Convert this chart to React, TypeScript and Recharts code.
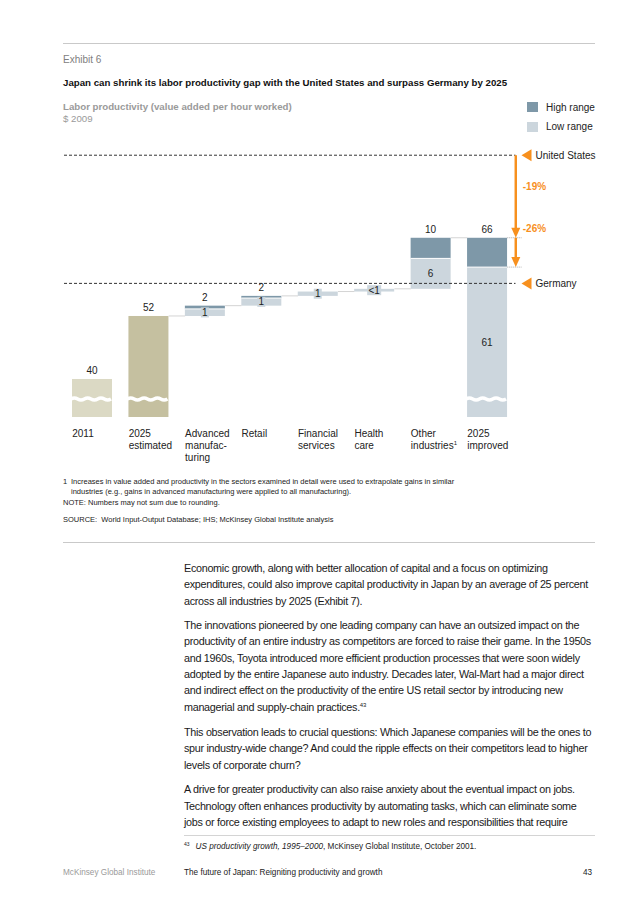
import React from "react";
import { ComposedChart, Bar, XAxis, YAxis, ReferenceLine, LabelList } from "recharts";

// waterfall: invisible base + low range + extra for high range
const categoryNames = [
  "2011",
  "2025 estimated",
  "Advanced manufacturing",
  "Retail",
  "Financial services",
  "Health care",
  "Other industries",
  "2025 improved",
];
const tickLines = [
  ["2011"],
  ["2025", "estimated"],
  ["Advanced", "manufac-", "turing"],
  ["Retail"],
  ["Financial", "services"],
  ["Health", "care"],
  ["Other", "industries"],
  ["2025", "improved"],
];
const tickSuperscripts = ["", "", "", "", "", "", "1", ""];
const barKinds = ["start", "estimate", "step", "step", "step", "step", "step", "total"];
const baseValues = [0, 0, 51.6, 53.5, 55.3, 56.1, 56.6, 0];
const lowValues = [40, 51.6, 1.3, 1.4, 0.8, 0.5, 5.6, 60.6];
const highValues = [0, 0, 0.6, 0.4, 0, 0, 3.8, 5.4];
const topLabels = ["40", "52", "2", "2", "", "", "10", "66"];
const lowLabels = ["", "", "1", "1", "1", "<1", "6", "61"];

const benchmarkNames = ["United States", "Germany"];
const benchmarkValues = [81.2, 57.6];
const gapLabels = ["-19%", "-26%"];

const legendItems = ["High range", "Low range"];

const footnoteLines = [
  "Increases in value added and productivity in the sectors examined in detail were used to extrapolate gains in similar",
  "industries (e.g., gains in advanced manufacturing were applied to all manufacturing).",
];
const noteText = "NOTE: Numbers may not sum due to rounding.";
const sourceText = "SOURCE:  World Input-Output Database; IHS; McKinsey Global Institute analysis";

const paragraphs = [
  [
    "Economic growth, along with better allocation of capital and a focus on optimizing",
    "expenditures, could also improve capital productivity in Japan by an average of 25 percent",
    "across all industries by 2025 (Exhibit 7).",
  ],
  [
    "The innovations pioneered by one leading company can have an outsized impact on the",
    "productivity of an entire industry as competitors are forced to raise their game. In the 1950s",
    "and 1960s, Toyota introduced more efficient production processes that were soon widely",
    "adopted by the entire Japanese auto industry. Decades later, Wal-Mart had a major direct",
    "and indirect effect on the productivity of the entire US retail sector by introducing new",
    "managerial and supply-chain practices.",
  ],
  [
    "This observation leads to crucial questions: Which Japanese companies will be the ones to",
    "spur industry-wide change? And could the ripple effects on their competitors lead to higher",
    "levels of corporate churn?",
  ],
  [
    "A drive for greater productivity can also raise anxiety about the eventual impact on jobs.",
    "Technology often enhances productivity by automating tasks, which can eliminate some",
    "jobs or force existing employees to adapt to new roles and responsibilities that require",
  ],
];

const data = categoryNames.map((name, i) => ({
  name,
  base: baseValues[i],
  low: lowValues[i],
  high: highValues[i],
  topLabel: topLabels[i],
  lowLabel: lowLabels[i],
}));
const tops = data.map((d) => d.base + d.low + d.high);
const last = data.length - 1;

const FONT = "'Liberation Sans', Arial, Helvetica, sans-serif";
const DARK = "#7e98a8";
const LIGHT = "#ccd6dd";
const ORANGE = "#f7901e";
const kindColor: Record<string, string> = {
  start: "#dbd9c4",
  estimate: "#c5c0a0",
  step: LIGHT,
  total: LIGHT,
};
const BAR = 40;

const LowShape = (p: any) => {
  const { x, y, width, height, index } = p;
  if (!height) return null;
  const kind = barKinds[index];
  const broken = kind !== "step";
  let wave = "";
  if (broken) {
    const yc = y + height - 18;
    const half = width / 6;
    wave = `M ${x - 1} ${yc}`;
    for (let k = 0; k < 6; k++) {
      wave += ` q ${half / 2} ${k % 2 ? 2 : -2} ${half} 0`;
    }
  }
  return (
    <g>
      <rect x={x} y={y} width={width} height={height} fill={kindColor[kind]} />
      {broken && <path d={wave} stroke="#fff" strokeWidth={3.5} fill="none" />}
    </g>
  );
};

const HighShape = (p: any) => {
  const { x, y, width, height } = p;
  if (!height) return null;
  return (
    <g>
      <rect x={x} y={y} width={width} height={height} fill={DARK} />
      <line x1={x} x2={x + width} y1={y + height} y2={y + height} stroke="#fff" strokeWidth={1} />
    </g>
  );
};

const TopLabel = (p: any) => {
  const vb = p.viewBox || p;
  if (!p.value) return null;
  return (
    <text x={vb.x + vb.width / 2} y={vb.y - 8} textAnchor="middle" dominantBaseline="central" fontSize={10} fill="#222">
      {p.value}
    </text>
  );
};

const LowLabel = (p: any) => {
  const vb = p.viewBox || p;
  if (!p.value) return null;
  const cx = vb.x + vb.width / 2;
  const cy = vb.y + vb.height / 2;
  const w = String(p.value).length * 6 + 2;
  return (
    <g>
      <rect x={cx - w / 2} y={cy - 5} width={w} height={10} fill={LIGHT} />
      <text x={cx} y={cy} textAnchor="middle" dominantBaseline="central" fontSize={10} fill="#222">
        {p.value}
      </text>
    </g>
  );
};

const Tick = (p: any) => {
  const lines = tickLines[p.index] || [];
  const sup = tickSuperscripts[p.index];
  return (
    <text x={p.x - BAR / 2} y={p.y + 11.5} fontSize={10} fill="#222" textAnchor="start">
      {lines.map((l, i) => (
        <tspan key={i} x={p.x - BAR / 2} dy={i === 0 ? 0 : 12}>
          {l}
          {i === lines.length - 1 && sup ? (
            <tspan fontSize={6} dy={-4}>
              {sup}
            </tspan>
          ) : null}
        </tspan>
      ))}
    </text>
  );
};

const BenchmarkLabel = (name: string) => (p: any) => {
  const vb = p.viewBox;
  const x0 = vb.x + vb.width + 6;
  const y0 = vb.y;
  return (
    <g>
      <polygon points={`${x0},${y0} ${x0 + 10},${y0 - 6} ${x0 + 10},${y0 + 6}`} fill={ORANGE} />
      <text x={x0 + 14} y={y0} dominantBaseline="central" fontSize={10} fill="#222">
        {name}
      </text>
    </g>
  );
};

const Connector = (p: any) => (
  <line x1={p.x1 + BAR / 2} x2={p.x2 - BAR / 2} y1={p.y1} y2={p.y2} stroke="#d4d4d4" strokeWidth={1} />
);

const GapArrow = (label: string, labelAbove: boolean) => (p: any) => {
  const xa = p.x1 + 28.5;
  const ly = labelAbove ? p.y1 - 9.5 : p.y1 + (p.y2 - p.y1) * 0.38;
  return (
    <g>
      <line x1={p.x1 + BAR / 2} x2={xa + 6} y1={p.y2} y2={p.y2} stroke="#aaa" strokeWidth={1} strokeDasharray="1 1" />
      <line x1={xa} x2={xa} y1={p.y1} y2={p.y2 - 9} stroke={ORANGE} strokeWidth={2.5} />
      <polygon points={`${xa - 4.5},${p.y2 - 10} ${xa + 4.5},${p.y2 - 10} ${xa},${p.y2}`} fill={ORANGE} />
      <text x={xa + 7} y={ly} dominantBaseline="central" fontSize={10} fontWeight="bold" fill={ORANGE}>
        {label}
      </text>
    </g>
  );
};

const T = ({ left, y, size, children, style }: any) => (
  <div
    style={{
      position: "absolute",
      left,
      top: y - size * 0.6,
      fontSize: size,
      lineHeight: `${size * 1.2}px`,
      whiteSpace: "nowrap",
      ...style,
    }}
  >
    {children}
  </div>
);

const Rule = ({ left, top, width, color = "#c9c9c9", h = 1.5 }: any) => (
  <div style={{ position: "absolute", left, top, width, height: h, background: color }} />
);

const bodyTops = [
  [568, 584.5, 601],
  [625, 641, 658, 674, 690.5, 707],
  [732, 748.5, 765],
  [789, 806, 822],
];

export default function App() {
  return (
    <div
      style={{
        position: "absolute",
        left: 0,
        top: 0,
        width: 636,
        height: 900,
        background: "#fff",
        fontFamily: FONT,
        color: "#1a1a1a",
      }}
    >
      <Rule left={63} top={42.5} width={532} />
      <T left={63} y={60} size={10} style={{ color: "#808080" }}>
        Exhibit 6
      </T>
      <T left={63} y={83} size={9.7} style={{ fontWeight: "bold", color: "#111" }}>
        Japan can shrink its labor productivity gap with the United States and surpass Germany by 2025
      </T>
      <T left={63} y={107} size={9.7} style={{ fontWeight: "bold", color: "#9a9a9a" }}>
        Labor productivity (value added per hour worked)
      </T>
      <T left={63} y={119} size={9.7} style={{ color: "#9a9a9a" }}>
        $ 2009
      </T>
      {legendItems.map((item, i) => (
        <React.Fragment key={item}>
          <div
            style={{
              position: "absolute",
              left: 527,
              top: 102 + i * 19.5,
              width: 11,
              height: 10,
              background: i === 0 ? DARK : LIGHT,
            }}
          />
          <T left={546} y={107.5 + i * 19.5} size={10} style={{ color: "#222" }}>
            {item}
          </T>
        </React.Fragment>
      ))}

      <div style={{ position: "absolute", left: 0, top: 140 }}>
        <ComposedChart
          width={636}
          height={327}
          data={data}
          margin={{ top: 0, right: 120.5, left: 64, bottom: 0 }}
          barSize={BAR}
          style={{ fontFamily: FONT }}
        >
          <XAxis dataKey="name" axisLine={false} tickLine={false} height={50} interval={0} tick={<Tick />} />
          <YAxis type="number" hide domain={[33, 84]} allowDataOverflow />
          <Bar dataKey="base" stackId="w" fill="transparent" isAnimationActive={false} />
          <Bar dataKey="low" stackId="w" shape={LowShape} isAnimationActive={false}>
            <LabelList dataKey="lowLabel" content={LowLabel} />
          </Bar>
          <Bar dataKey="high" stackId="w" shape={HighShape} isAnimationActive={false}>
            <LabelList dataKey="topLabel" content={TopLabel} />
          </Bar>
          {categoryNames.slice(1, last).map((name, i) => (
            <ReferenceLine
              key={name}
              segment={[
                { x: name, y: tops[i + 1] },
                { x: categoryNames[i + 2], y: tops[i + 1] },
              ]}
              shape={Connector}
            />
          ))}
          {benchmarkNames.map((name, i) => (
            <ReferenceLine
              key={name}
              y={benchmarkValues[i]}
              stroke="#333"
              strokeWidth={1}
              strokeDasharray="3 2"
              label={BenchmarkLabel(name)}
            />
          ))}
          <ReferenceLine
            segment={[
              { x: categoryNames[last], y: benchmarkValues[0] },
              { x: categoryNames[last], y: tops[last] },
            ]}
            shape={GapArrow(gapLabels[0], false)}
          />
          <ReferenceLine
            segment={[
              { x: categoryNames[last], y: tops[last] },
              { x: categoryNames[last], y: baseValues[last] + lowValues[last] },
            ]}
            shape={GapArrow(gapLabels[1], true)}
          />
        </ComposedChart>
      </div>

      <T left={63} y={481} size={7.5} style={{ color: "#222" }}>
        1
      </T>
      {footnoteLines.map((l, i) => (
        <T key={i} left={71} y={481 + i * 10.5} size={7.5} style={{ color: "#222" }}>
          {l}
        </T>
      ))}
      <T left={63} y={502} size={7.5} style={{ color: "#222" }}>
        {noteText}
      </T>
      <T left={63} y={519} size={7.5} style={{ color: "#222", whiteSpace: "pre" }}>
        {sourceText}
      </T>
      <Rule left={63} top={541.5} width={532} />

      {paragraphs.map((lines, pi) =>
        lines.map((l, li) => (
          <T
            key={`${pi}-${li}`}
            left={184}
            y={bodyTops[pi][li]}
            size={10.8}
            style={{ letterSpacing: -0.3, color: "#1a1a1a" }}
          >
            {l}
            {pi === 1 && li === lines.length - 1 ? (
              <sup style={{ fontSize: 6, verticalAlign: 4, lineHeight: 0 }}>43</sup>
            ) : null}
          </T>
        ))
      )}

      <Rule left={184} top={834.5} width={411} color="#d4d4d4" h={1} />
      <T left={184} y={847} size={8.2} style={{ color: "#222" }}>
        <sup style={{ fontSize: 5, verticalAlign: 3, lineHeight: 0 }}>43</sup>
        <span style={{ marginLeft: 6, fontStyle: "italic" }}>US productivity growth, 1995–2000</span>
        , McKinsey Global Institute, October 2001.
      </T>
      <T left={63} y={873} size={8.2} style={{ color: "#9a9a9a" }}>
        McKinsey Global Institute
      </T>
      <T left={184} y={873} size={8.2} style={{ color: "#222" }}>
        The future of Japan: Reigniting productivity and growth
      </T>
      <T left={583} y={873} size={8.2} style={{ color: "#222" }}>
        43
      </T>
    </div>
  );
}
